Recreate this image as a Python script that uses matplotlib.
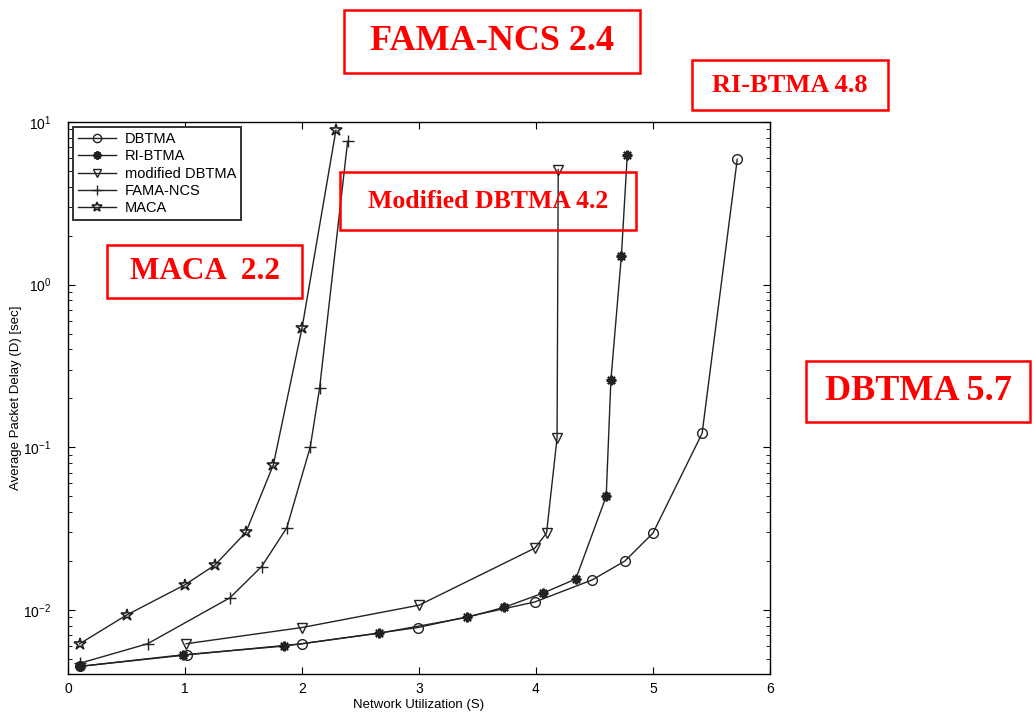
import matplotlib
matplotlib.use("Agg")
import matplotlib.pyplot as plt
from matplotlib.patches import Rectangle

plt.rcParams['font.family'] = ['Liberation Sans', 'DejaVu Sans']

# data
x_dbtma = [0.1, 1.02, 2.0, 2.99, 3.99, 4.48, 4.76, 5.0, 5.42, 5.72]
y_dbtma = [0.0045, 0.0053, 0.0062, 0.0078, 0.0112, 0.0153, 0.020, 0.0297, 0.122, 5.9]

x_ri = [0.1, 0.98, 1.85, 2.66, 3.41, 3.73, 4.06, 4.34, 4.6, 4.64, 4.73, 4.78]
y_ri = [0.0045, 0.0053, 0.006, 0.0072, 0.0090, 0.0104, 0.0127, 0.0155, 0.050, 0.258, 1.51, 6.25]

x_mod = [1.01, 2.0, 3.0, 3.99, 4.09, 4.18, 4.19]
y_mod = [0.0062, 0.0078, 0.0107, 0.024, 0.0297, 0.114, 5.1]

x_fama = [0.1, 0.68, 1.385, 1.655, 1.87, 2.07, 2.15, 2.39]
y_fama = [0.0047, 0.0062, 0.0119, 0.0185, 0.032, 0.1, 0.23, 7.6]

x_maca = [0.1, 0.5, 1.0, 1.256, 1.52, 1.755, 2.0, 2.29]
y_maca = [0.0062, 0.0093, 0.0143, 0.0189, 0.030, 0.078, 0.54, 8.9]

x_ticks = [0, 1, 2, 3, 4, 5, 6]

# red call-out boxes: (text, box in figure pixels x0, y0_top, x1, y1_bottom, fontsize)
notes = [
    ("FAMA-NCS 2.4", 344, 10, 640, 73, 26),
    ("RI-BTMA 4.8", 692, 60, 888, 110, 19),
    ("Modified DBTMA 4.2", 340, 172, 636, 230, 18.5),
    ("MACA  2.2", 107, 245, 302, 298, 22.5),
    ("DBTMA 5.7", 806, 361, 1030, 422, 26),
]

W, H = 1034, 715
fig = plt.figure(figsize=(W / 100, H / 100), dpi=100)
ax = fig.add_axes([68 / W, 1 - 674 / H, (770 - 68) / W, (674 - 122) / H])

lc = '#222222'
ax.plot(x_dbtma, y_dbtma, color=lc, lw=1.0, marker='o', ms=7, mfc='none', mec=lc, mew=1.0, label='DBTMA')
ax.plot(x_ri, y_ri, color=lc, lw=1.0, marker=(8, 2, 0), ms=7, mec=lc, mew=1.6, label='RI-BTMA')
ax.plot(x_mod, y_mod, color=lc, lw=1.0, marker='v', ms=7, mfc='none', mec=lc, mew=1.0, label='modified DBTMA')
ax.plot(x_fama, y_fama, color=lc, lw=1.0, marker='+', ms=9, mec=lc, mew=1.0, label='FAMA-NCS')
ax.plot(x_maca, y_maca, color=lc, lw=1.0, marker='*', ms=9, mfc='none', mec=lc, mew=1.2, label='MACA')

ax.set_yscale('log')
ax.set_xlim(0, 6)
ax.set_ylim(0.00404, 10)
ax.set_xticks(x_ticks)
ax.set_xticklabels([str(t) for t in x_ticks], fontsize=10)
ax.tick_params(which='both', direction='in', top=True, right=True, labelsize=10)
ax.tick_params(which='major', length=5)
ax.tick_params(which='minor', length=3)
ax.tick_params(axis='y', which='major', pad=12)
ax.tick_params(axis='x', which='major', pad=6)
for s in ax.spines.values():
    s.set_linewidth(1.0)

ax.set_xlabel("Network Utilization (S)", fontsize=9.5, labelpad=2)
ax.set_ylabel("Average Packet Delay (D) [sec]", fontsize=9.5, labelpad=1)

leg = ax.legend(loc='upper left', fontsize=10.5, frameon=True, fancybox=False,
                edgecolor='#333333', framealpha=1, handlelength=2.6,
                borderpad=0.35, labelspacing=0.22, handletextpad=0.6,
                borderaxespad=0.35, markerscale=0.85)
leg.get_frame().set_linewidth(1.4)

for txt, x0, y0, x1, y1, fs in notes:
    fig.patches.append(Rectangle((x0 / W, 1 - y1 / H), (x1 - x0) / W, (y1 - y0) / H,
                                 transform=fig.transFigure, fill=False,
                                 edgecolor='red', linewidth=1.8))
    fig.text((x0 + x1) / 2 / W, 1 - (y0 + y1) / 2 / H, txt, color='red',
             fontsize=fs, fontweight='bold', family='Liberation Serif',
             ha='center', va='center')

fig.savefig("out.png", dpi=100)
